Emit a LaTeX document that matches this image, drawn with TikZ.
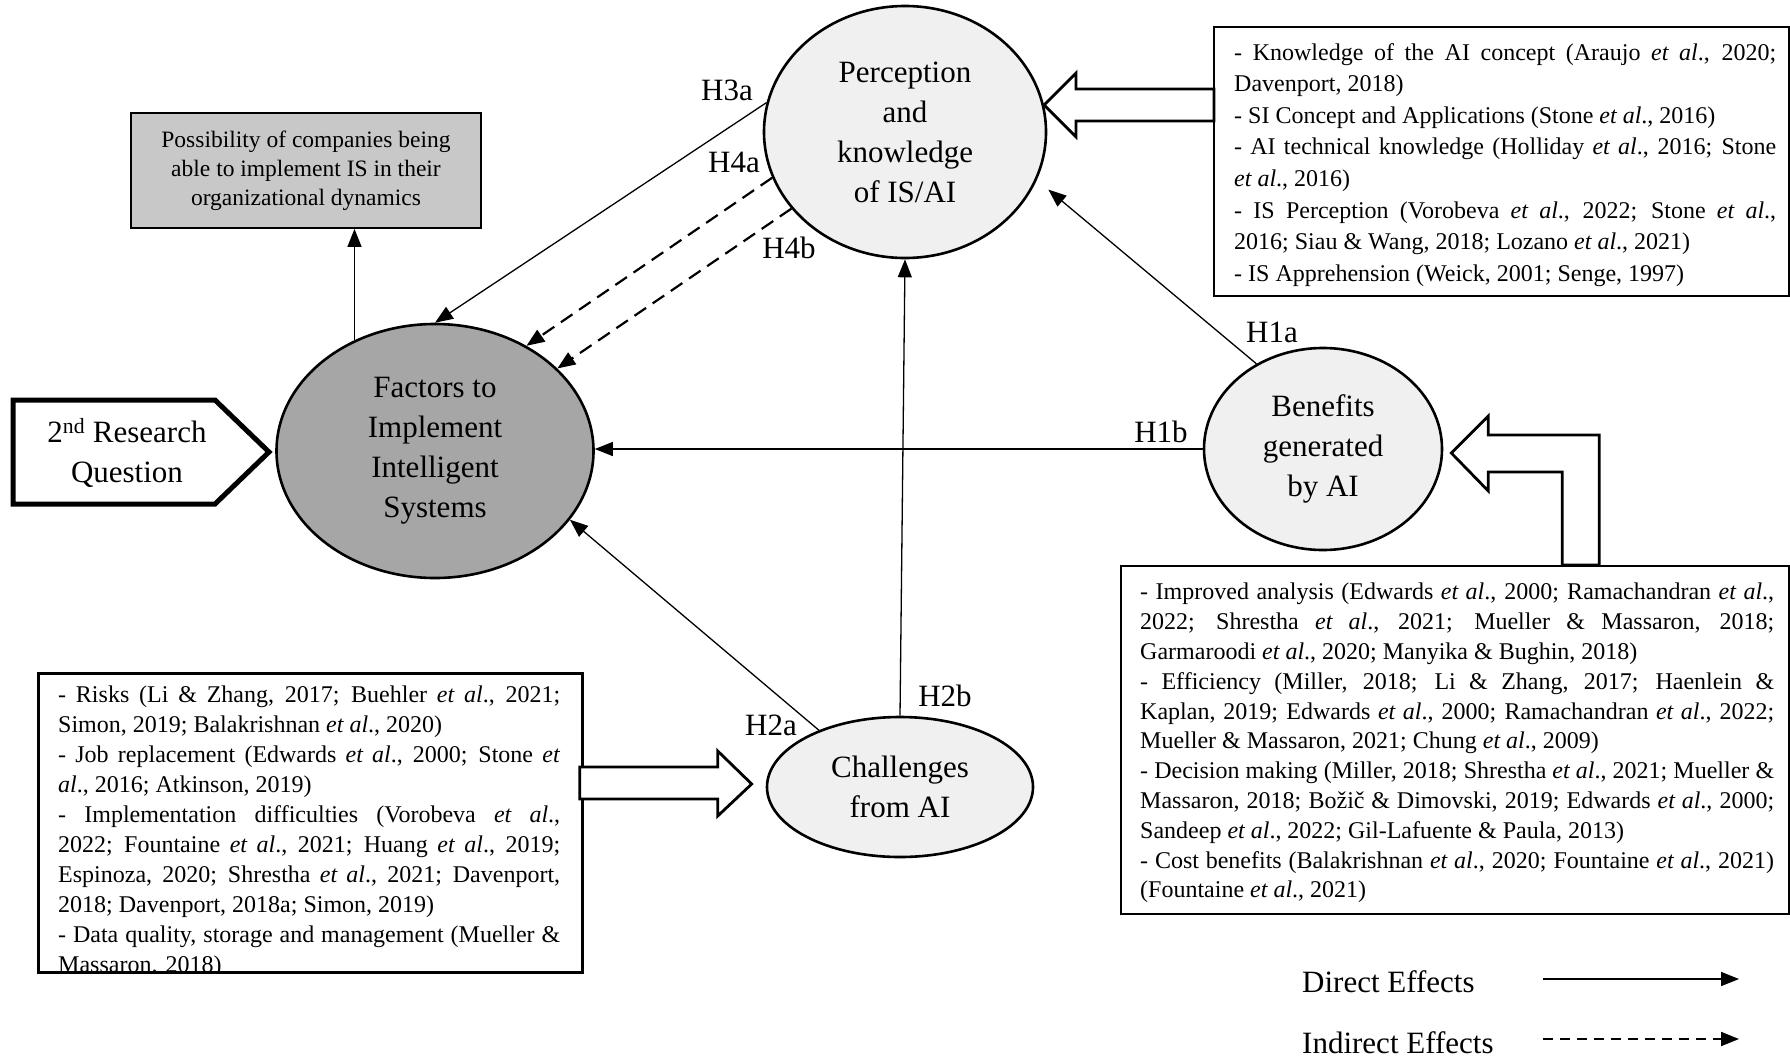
\documentclass[tikz,border=0pt]{standalone}
\usepackage{fontspec}
\setmainfont{Liberation Serif}
\usetikzlibrary{shapes.geometric,arrows.meta,calc}

\definecolor{constructfill}{HTML}{F0F0F0}
\definecolor{targetfill}{HTML}{A6A6A6}
\definecolor{outcomefill}{HTML}{C8C8C8}

\newcommand{\etal}{\textit{et al}.}
\newcommand{\jus}[2]{\makebox[#1][s]{#2}}

\tikzset{
  conn/.style={line width=1.3pt, -{Triangle[length=18pt,width=14pt]}},
  indirect/.style={line width=2.2pt, dash pattern=on 14pt off 8pt, -{Triangle[length=18pt,width=14pt]}},
  construct/.style={ellipse, draw, line width=2.6pt, inner sep=0pt, align=center,
    font=\fontsize{31}{40}\selectfont},
  hlabel/.style={font=\fontsize{31}{36}\selectfont, inner sep=0pt},
  litbox/.style={draw, line width=1.8pt, anchor=north west, inner sep=0pt},
  littext/.style={anchor=north west, inner sep=0pt, align=left},
  blockarrow/.style={draw, line width=2.8pt, fill=white, line join=miter},
  legendtext/.style={font=\fontsize{31}{36}\selectfont, anchor=west, inner sep=0pt},
}

\begin{document}
\begin{tikzpicture}[x=1pt,y=-1pt]
\useasboundingbox (0,0) rectangle (1790,1058);

% ---------- constructs ----------
\node[construct, fill=constructfill, minimum width=282pt, minimum height=252pt] (perc) at (905,132)
  {Perception\\and\\knowledge\\of IS/AI};
\node[construct, fill=targetfill, minimum width=317pt, minimum height=254pt] (fac) at (435,451)
  {Factors to\\Implement\\Intelligent\\Systems};
\node[construct, fill=constructfill, minimum width=238pt, minimum height=202pt] (ben) at (1323,449)
  {Benefits\\generated\\by AI};
\node[construct, fill=constructfill, minimum width=266pt, minimum height=140pt] (chal) at (900,787)
  {Challenges\\from AI};

% ---------- outcome box ----------
\node[draw, line width=1.8pt, fill=outcomefill, minimum width=350pt, minimum height=115pt,
  align=center, inner sep=0pt, font=\fontsize{23.5}{29}\selectfont] (poss) at (306,170.5)
  {Possibility of companies being\\able to implement IS in their\\organizational dynamics};

% ---------- research question marker ----------
\draw[line width=5pt, line join=miter] (13,400) -- (215,400) -- (269,452) -- (215,504) -- (13,504) -- cycle;
\node[font=\fontsize{31}{40}\selectfont, align=center, inner sep=0pt] (rq) at (127,453)
  {2\textsuperscript{nd} Research\\Question};

% ---------- literature boxes ----------
\node[litbox, minimum width=575pt, minimum height=269pt] (kbox) at (1213,26) {};
\node[littext, font=\fontsize{24}{31.6}\selectfont] (ktext) at (1234,43) {%
\jus{542pt}{- Knowledge of the AI concept (Araujo \etal, 2020;}\\
Davenport, 2018)\\
- SI Concept and Applications (Stone \etal, 2016)\\
\jus{542pt}{- AI technical knowledge (Holliday \etal, 2016; Stone}\\
\etal, 2016)\\
\jus{542pt}{- IS Perception (Vorobeva \etal, 2022; Stone \etal,}\\
2016; Siau \& Wang, 2018; Lozano \etal, 2021)\\
- IS Apprehension (Weick, 2001; Senge, 1997)};

\node[litbox, minimum width=668pt, minimum height=348pt] (bbox) at (1120,565) {};
\node[littext, font=\fontsize{24}{29.8}\selectfont] (btext) at (1140,583) {%
\jus{634pt}{- Improved analysis (Edwards \etal, 2000; Ramachandran \etal,}\\
\jus{634pt}{2022; Shrestha \etal, 2021; Mueller \& Massaron, 2018;}\\
Garmaroodi \etal, 2020; Manyika \& Bughin, 2018)\\
\jus{634pt}{- Efficiency (Miller, 2018; Li \& Zhang, 2017; Haenlein \&}\\
\jus{634pt}{Kaplan, 2019; Edwards \etal, 2000; Ramachandran \etal, 2022;}\\
Mueller \& Massaron, 2021; Chung \etal, 2009)\\
\jus{634pt}{- Decision making (Miller, 2018; Shrestha \etal, 2021; Mueller \&}\\
\jus{634pt}{Massaron, 2018; Božič \& Dimovski, 2019; Edwards \etal, 2000;}\\
Sandeep \etal, 2022; Gil-Lafuente \& Paula, 2013)\\
\jus{634pt}{- Cost benefits (Balakrishnan \etal, 2020; Fountaine \etal, 2021)}\\
(Fountaine \etal, 2021)};

\node[litbox, minimum width=543pt, minimum height=298pt] (cbox) at (38,673) {};
\begin{scope}
\clip (cbox.north west) rectangle (cbox.south east);
\node[littext, font=\fontsize{24}{30}\selectfont] (ctext) at (58,686) {%
\jus{502pt}{- Risks (Li \& Zhang, 2017; Buehler \etal, 2021;}\\
Simon, 2019; Balakrishnan \etal, 2020)\\
\jus{502pt}{- Job replacement (Edwards \etal, 2000; Stone \textit{et}}\\
\textit{al}., 2016; Atkinson, 2019)\\
\jus{502pt}{- Implementation difficulties (Vorobeva \etal,}\\
\jus{502pt}{2022; Fountaine \etal, 2021; Huang \etal, 2019;}\\
\jus{502pt}{Espinoza, 2020; Shrestha \etal, 2021; Davenport,}\\
2018; Davenport, 2018a; Simon, 2019)\\
\jus{502pt}{- Data quality, storage and management (Mueller \&}\\
Massaron. 2018)};
\end{scope}
\draw[line width=1.8pt] (cbox.north west) rectangle (cbox.south east);

% ---------- block arrows feeding the constructs ----------
\draw[blockarrow] (perc.11) -- ++(32,-32) -- ++(0,16) -- ++(138,0) -- ++(0,32)
  -- ++(-138,0) -- ++(0,16) -- cycle;
\draw[blockarrow] ($(ben.east)+(8,4)$) -- ++(37,-37) -- ++(0,19) -- ++(111,0) -- ++(0,130)
  -- ++(-37,0) -- ++(0,-93) -- ++(-74,0) -- ++(0,19) -- cycle;
\draw[blockarrow] ($(chal.west)+(-14,-3)$) -- ++(-34,-33) -- ++(0,16) -- ++(-138,0) -- ++(0,32)
  -- ++(138,0) -- ++(0,17) -- cycle;

% ---------- hypotheses ----------
\draw[conn] (perc.168) -- (fac.north);
\draw[indirect] (perc.199) -- (fac.49.9);
\draw[indirect] (perc.214.6) -- (fac.34);
\draw[conn, shorten >=15pt] (ben.128) -- (perc.340.4);
\draw[conn] (ben.west) -- (ben.west -| fac.east);
\draw[conn] (chal.145) -- (fac.333.2);
\draw[conn] (chal.north) -- (perc.south);
\draw[conn] (fac.126.3) -- (fac.126.3 |- poss.south);

\node[hlabel] (h3a) at (727,90) {H3a};
\node[hlabel] (h4a) at (734,162) {H4a};
\node[hlabel] (h4b) at (789,248) {H4b};
\node[hlabel] (h1a) at (1272,332) {H1a};
\node[hlabel] (h1b) at (1161,432) {H1b};
\node[hlabel] (h2a) at (771,725) {H2a};
\node[hlabel] (h2b) at (945,696) {H2b};

% ---------- legend ----------
\node[legendtext] (ldirect) at (1302,982) {Direct Effects};
\node[legendtext] (lindirect) at (1302,1043) {Indirect Effects};
\coordinate (dstart) at (1543,979);
\coordinate (dend) at (1739,979);
\coordinate (istart) at (1543,1039);
\coordinate (iend) at (1739,1039);
\draw[conn, line width=1.6pt] (dstart) -- (dend);
\draw[line width=2pt, dash pattern=on 10pt off 7pt, -{Triangle[length=18pt,width=14pt]}] (istart) -- (iend);
\end{tikzpicture}
\end{document}
